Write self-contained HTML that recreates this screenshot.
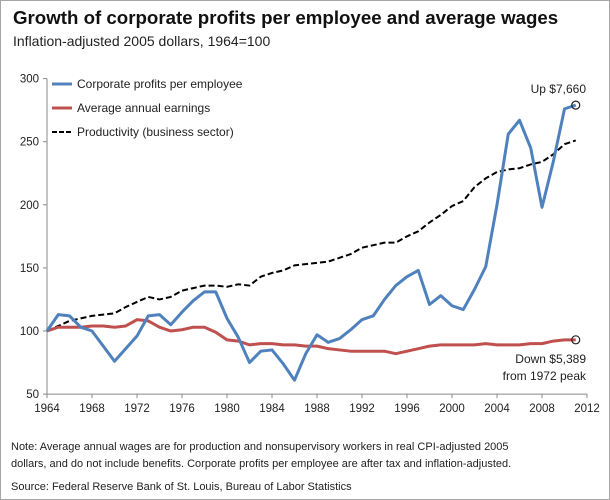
<!DOCTYPE html>
<html><head><meta charset="utf-8"><style>
body{margin:0;background:#fff}
#wrap{position:relative;width:608px;height:498px;border:1px solid #a6a6a6;font-family:"Liberation Sans",sans-serif;overflow:hidden}
.t{position:absolute;white-space:nowrap;color:#222}
</style></head><body>
<div id="wrap">
<div class="t" style="left:12px;top:6px;font-size:18.7px;font-weight:bold;color:#111">Growth of corporate profits per employee and average wages</div>
<div class="t" style="left:12px;top:32px;font-size:14px">Inflation-adjusted 2005 dollars, 1964=100</div>
<svg id="chart" width="610" height="500" style="position:absolute;left:0;top:0"></svg>
<div class="t" style="left:10px;top:438px;font-size:11px;line-height:17px">Note: Average annual wages are for production and nonsupervisory workers in real CPI-adjusted 2005<br>dollars, and do not include benefits. Corporate profits per employee are after tax and inflation-adjusted.</div>
<div class="t" style="left:10px;top:480px;font-size:11px">Source: Federal Reserve Bank of St. Louis, Bureau of Labor Statistics</div>
</div>
<script>
const years=[];for(let y=1964;y<=2011;y++)years.push(y);
const profits=[100,113,112,103,100,88,76,86,96,112,113,105,115,124,131,131,110,95,75,84,85,74,61,82,97,91,94,101,109,112,125,136,143,148,121,128,120,117,133,151,200,256,267,245,198,234,276,279];
const earnings=[100,103,103,103,104,104,103,104,109,108,103,100,101,103,103,99,93,92,89,90,90,89,89,88,88,86,85,84,84,84,84,82,84,86,88,89,89,89,89,90,89,89,89,90,90,92,93,93];
const productivity=[100,104,108,110,112,113,114,119,123,127,125,127,132,134,136,136,135,137,136,143,146,148,152,153,154,155,158,161,166,168,170,170,175,179,186,192,199,203,214,221,226,228,229,232,234,240,248,251];
const yTicks=[50,100,150,200,250,300];
const xTicks=[1964,1968,1972,1976,1980,1984,1988,1992,1996,2000,2004,2008,2012];
const X=y=>46+(y-1964)*11.25, Y=v=>330-(v-100)*1.262;
const s=document.getElementById('chart'),NS='http://www.w3.org/2000/svg';
function el(t,a,p){const e=document.createElementNS(NS,t);for(const k in a)e.setAttribute(k,a[k]);(p||s).appendChild(e);return e;}
let e=el('line',{x1:46,y1:Y(300),x2:46,y2:Y(50),stroke:'#888'});


e=el('line',{x1:46,y1:Y(50),x2:X(2012),y2:Y(50),stroke:'#888'});


yTicks.forEach(v=>{el('line',{x1:42,x2:46,y1:Y(v),y2:Y(v),stroke:'#888'});
 const t=el('text',{x:38,y:Y(v)+4,'text-anchor':'end','font-size':11.5,fill:'#222'});t.textContent=v;
 
 });
xTicks.forEach(v=>{el('line',{x1:X(v),x2:X(v),y1:Y(50),y2:Y(50)+4,stroke:'#888'});
 const t=el('text',{x:X(v),y:Y(50)+18,'text-anchor':'middle','font-size':11.5,fill:'#222'});t.textContent=v;
 
 });
function line(d,c,w,dash,name){const p=el('polyline',{points:d.map((v,i)=>X(years[i])+','+Y(v)).join(' '),fill:'none',stroke:c,'stroke-width':w,'stroke-linejoin':'round'});if(dash)p.setAttribute('stroke-dasharray',dash);
 
 }
line(productivity,'#000',2,'6,3','productivity-line');
line(earnings,'#c0504d',3,null,'earnings-line');
line(profits,'#4f81bd',3,null,'profits-line');
const last=years.length-1;
[[profits[last]],[earnings[last]]].forEach(([v])=>{const c=el('circle',{cx:X(2011),cy:Y(v),r:4,fill:'none',stroke:'#222','stroke-width':1.2});
 
 });
function txt(x,y,str,name,anchor){const t=el('text',{x:x,y:y,'font-size':12,fill:'#222','text-anchor':anchor||'start'});t.textContent=str;
 
 }
txt(585,92,'Up $7,660','profits-annotation','end');
txt(585,362,'Down $5,389','wages-annotation','end');
txt(585,379,'from 1972 peak','wages-annotation-2','end');
const leg=[['#4f81bd',null,'Corporate profits per employee'],['#c0504d',null,'Average annual earnings'],['#000','6,3','Productivity (business sector)']];
leg.forEach((l,i)=>{const y=83+i*24;const ln=el('line',{x1:51,x2:71,y1:y,y2:y,stroke:l[0],'stroke-width':l[1]?2:3});if(l[1])ln.setAttribute('stroke-dasharray','5,2');
 
 
 txt(76,y+4,l[2],'legend-entry');});
</script>
</body></html>
